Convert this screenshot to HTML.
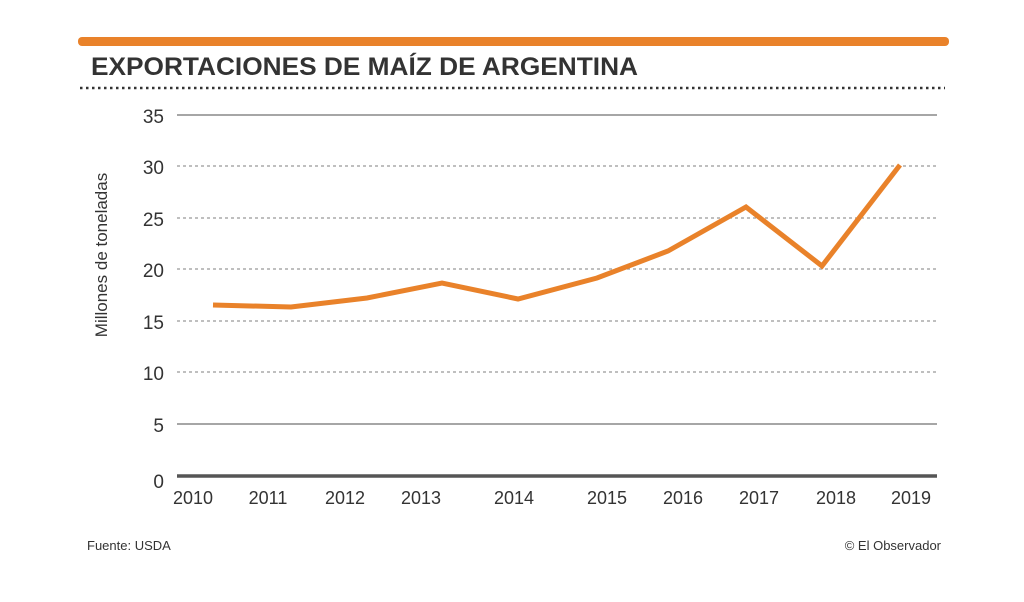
<!DOCTYPE html>
<html><head><meta charset="utf-8"><style>
body{margin:0;background:#fff;width:1024px;height:597px;overflow:hidden}
</style></head><body>
<svg width="1024" height="597" xmlns="http://www.w3.org/2000/svg" font-family="Liberation Sans, sans-serif">
<rect width="1024" height="597" fill="#fff"/>
<rect x="78" y="37" width="871" height="9" rx="4" fill="#e9822a"/>
<text x="91" y="75" font-size="25" font-weight="bold" fill="#333" textLength="547" lengthAdjust="spacingAndGlyphs">EXPORTACIONES DE MAÍZ DE ARGENTINA</text>
<line x1="80" y1="88" x2="945" y2="88" stroke="#333" stroke-width="2.5" stroke-dasharray="2.5,3.5"/>
<g stroke="#888" stroke-width="1.5">
<line x1="177" y1="115" x2="937" y2="115"/>
<line x1="177" y1="424" x2="937" y2="424"/>
</g>
<g stroke="#999" stroke-width="1.2" stroke-dasharray="3,3">
<line x1="177" y1="166" x2="937" y2="166"/>
<line x1="177" y1="218" x2="937" y2="218"/>
<line x1="177" y1="269" x2="937" y2="269"/>
<line x1="177" y1="321" x2="937" y2="321"/>
<line x1="177" y1="372" x2="937" y2="372"/>
</g>
<line x1="177" y1="476" x2="937" y2="476" stroke="#555" stroke-width="3.5"/>
<g font-size="19" fill="#333" text-anchor="end">
<text x="164" y="123">35</text><text x="164" y="174">30</text><text x="164" y="226">25</text>
<text x="164" y="277">20</text><text x="164" y="329">15</text><text x="164" y="380">10</text>
<text x="164" y="432">5</text><text x="164" y="488">0</text>
</g>
<text transform="translate(107,255) rotate(-90)" font-size="17" fill="#333" text-anchor="middle">Millones de toneladas</text>
<g font-size="18" fill="#333" text-anchor="middle">
<text x="193" y="504">2010</text><text x="268" y="504">2011</text><text x="345" y="504">2012</text>
<text x="421" y="504">2013</text><text x="514" y="504">2014</text><text x="607" y="504">2015</text>
<text x="683" y="504">2016</text><text x="759" y="504">2017</text><text x="836" y="504">2018</text>
<text x="911" y="504">2019</text>
</g>
<polyline points="213,305 291,307 367,298 442,283 518,299 597,278 668,251 746,207 822,266 900,165" fill="none" stroke="#e9822a" stroke-width="5" stroke-linejoin="miter"/>
<text x="87" y="550" font-size="13" fill="#333">Fuente: USDA</text>
<text x="941" y="550" font-size="13" fill="#333" text-anchor="end">© El Observador</text>
</svg>
</body></html>
